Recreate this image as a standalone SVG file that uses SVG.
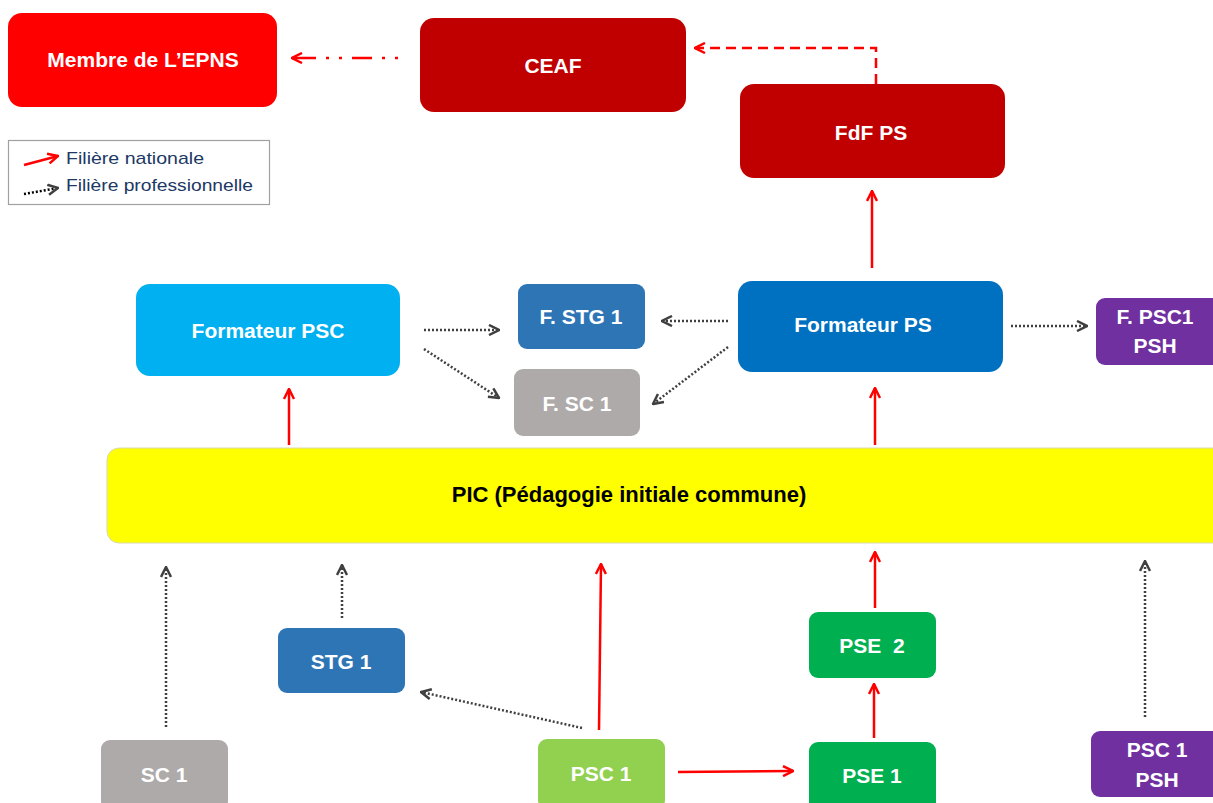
<svg xmlns="http://www.w3.org/2000/svg" width="1213" height="803" viewBox="0 0 1213 803">
<defs>
<style>
.t{font-family:"Liberation Sans",Arial,sans-serif;font-weight:bold;font-size:21px;fill:#fff;text-anchor:middle;dominant-baseline:central}
.tk{fill:#000;font-size:22px}
.lg{font-family:"Liberation Sans",Arial,sans-serif;font-size:17px;fill:#203864}
.red{stroke:#ff0000;stroke-width:2.5;fill:none}
.dot{stroke:#404040;stroke-width:2.5;fill:none;stroke-dasharray:2 2}
</style>
<marker id="ar" viewBox="0 0 10 10" refX="9" refY="5" markerWidth="5" markerHeight="5" orient="auto" markerUnits="strokeWidth">
<path d="M1,1 L9,5 L1,9" fill="none" stroke="#ff0000" stroke-width="2"/>
</marker>
<marker id="ad" viewBox="0 0 10 10" refX="9" refY="5" markerWidth="5" markerHeight="5" orient="auto" markerUnits="strokeWidth">
<path d="M1,1 L9,5 L1,9" fill="none" stroke="#404040" stroke-width="2"/>
</marker>
</defs>
<rect width="1213" height="803" fill="#fff"/>

<g id="connectors">
<path d="M398,58 L292,58" stroke="#ff0000" stroke-width="2.5" fill="none" stroke-dasharray="3 10 3 10 20 10 3 10 3 10 40" marker-end="url(#ar)"/>
<path d="M876,84 L876,48 L695,48" stroke="#ff0000" stroke-width="2.5" fill="none" stroke-dasharray="10 6" marker-end="url(#ar)"/>
<path class="red" d="M872,268 L872,191" marker-end="url(#ar)"/>
<path class="red" d="M289,445 L289,389" marker-end="url(#ar)"/>
<path class="red" d="M875,445 L875,388" marker-end="url(#ar)"/>
<path class="red" d="M599,730 L601,564" marker-end="url(#ar)"/>
<path class="red" d="M875,608 L875,552" marker-end="url(#ar)"/>
<path class="red" d="M874,738 L874,684" marker-end="url(#ar)"/>
<path class="red" d="M678,772 L793,771" stroke-width="3" marker-end="url(#ar)"/>
<path class="dot" d="M166,727 L166,567" marker-end="url(#ad)"/>
<path class="dot" d="M342,618 L342,565" marker-end="url(#ad)"/>
<path class="dot" d="M582,728 L421,692" marker-end="url(#ad)"/>
<path class="dot" d="M1145,717 L1145,561" marker-end="url(#ad)"/>
<path class="dot" d="M424,330 L499,330" marker-end="url(#ad)"/>
<path class="dot" d="M424,349 L499,398" marker-end="url(#ad)"/>
<path class="dot" d="M728,321 L662,321" marker-end="url(#ad)"/>
<path class="dot" d="M728,347 L653,404" marker-end="url(#ad)"/>
<path class="dot" d="M1011,326 L1087,326" marker-end="url(#ad)"/>
</g>

<g id="legend">
<rect x="8.5" y="140.5" width="261" height="64" fill="#fff" stroke="#a0a0a0" stroke-width="1.2"/>
<path d="M24,165 L58,156" stroke="#ff0000" stroke-width="2.5" fill="none" marker-end="url(#ar)"/>
<path d="M24,194 L58,188" stroke="#000" stroke-width="2.5" fill="none" stroke-dasharray="2 2" marker-end="url(#ad)"/>
<text class="lg" x="66" y="164" textLength="138" lengthAdjust="spacingAndGlyphs">Filière nationale</text>
<text class="lg" x="66" y="191" textLength="187" lengthAdjust="spacingAndGlyphs">Filière professionnelle</text>
</g>

<g id="membre"><rect x="8" y="13" width="269" height="94" rx="14" fill="#ff0000"/><text class="t" x="143" y="59">Membre de L’EPNS</text></g>
<g id="ceaf"><rect x="420" y="18" width="266" height="94" rx="14" fill="#c00000"/><text class="t" x="553" y="65">CEAF</text></g>
<g id="fdf"><rect x="740" y="84" width="265" height="94" rx="14" fill="#c00000"/><text class="t" x="871" y="132">FdF PS</text></g>
<g id="formpsc"><rect x="136" y="284" width="264" height="92" rx="14" fill="#00b0f0"/><text class="t" x="268" y="330">Formateur PSC</text></g>
<g id="fstg1"><rect x="518" y="284" width="127" height="65" rx="9" fill="#2e75b6"/><text class="t" x="581" y="316">F. STG 1</text></g>
<g id="fsc1"><rect x="514" y="369" width="126" height="67" rx="9" fill="#aeaaaa"/><text class="t" x="577" y="403">F. SC 1</text></g>
<g id="formps"><rect x="738" y="281" width="265" height="91" rx="14" fill="#0070c0"/><text class="t" x="863" y="324">Formateur PS</text></g>
<g id="fpsc1psh"><rect x="1096" y="298" width="130" height="67" rx="9" fill="#7030a0"/><text class="t" x="1155" y="316">F. PSC1</text><text class="t" x="1155" y="345">PSH</text></g>
<g id="pic"><rect x="107" y="448" width="1120" height="95" rx="12" fill="#ffff00" stroke="#d8d8b0" stroke-width="1"/><text class="t tk" x="629" y="494">PIC (Pédagogie initiale commune)</text></g>
<g id="stg1"><rect x="278" y="628" width="127" height="65" rx="9" fill="#2e75b6"/><text class="t" x="341" y="661">STG 1</text></g>
<g id="pse2"><rect x="809" y="612" width="127" height="66" rx="9" fill="#00b050"/><text class="t" x="872" y="645" xml:space="preserve">PSE  2</text></g>
<g id="sc1"><rect x="101" y="740" width="127" height="70" rx="9" fill="#aeaaaa"/><text class="t" x="164" y="774">SC 1</text></g>
<g id="psc1"><rect x="538" y="739" width="127" height="70" rx="9" fill="#92d050"/><text class="t" x="601" y="773">PSC 1</text></g>
<g id="pse1"><rect x="809" y="742" width="127" height="70" rx="9" fill="#00b050"/><text class="t" x="872" y="775">PSE 1</text></g>
<g id="psc1psh"><rect x="1091" y="731" width="130" height="66" rx="9" fill="#7030a0"/><text class="t" x="1157" y="749">PSC 1</text><text class="t" x="1157" y="779">PSH</text></g>
</svg>
